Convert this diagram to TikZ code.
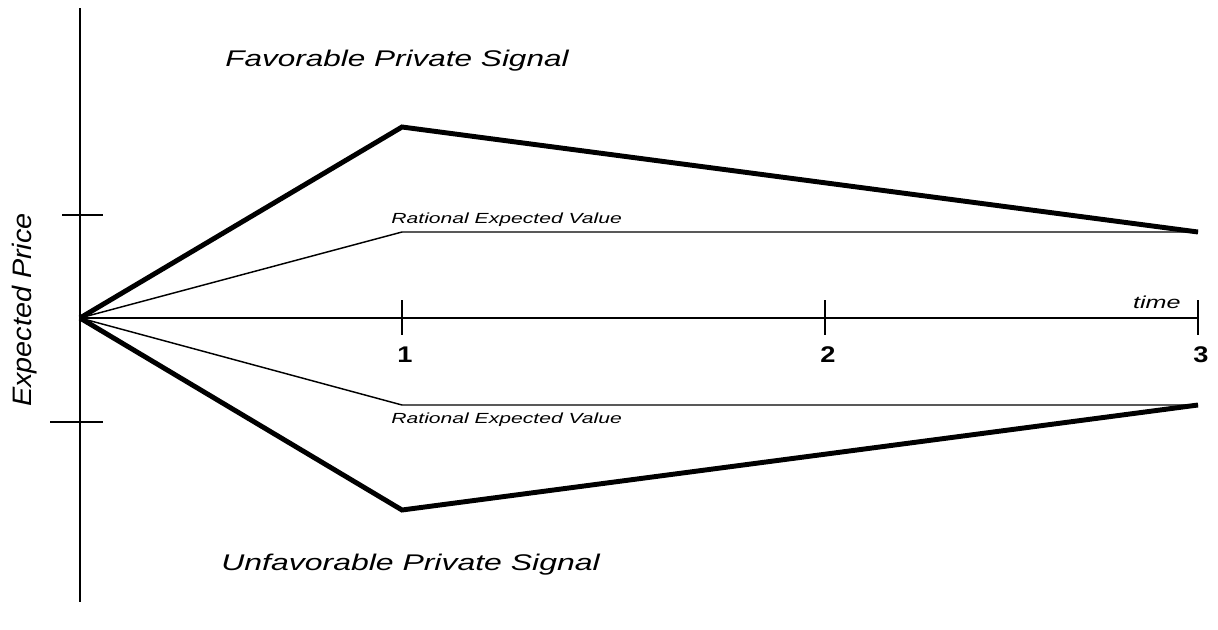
\documentclass[tikz,border=0pt]{standalone}
\usepackage{fontspec}
\setmainfont{Liberation Sans}
\usetikzlibrary{positioning}
\tikzset{
  signal/.style={line width=3.7pt, line join=miter},
  rational/.style={line width=1.1pt},
  axis/.style={line width=1.3pt},
  lbl/.style={font=\itshape, inner sep=0pt}
}
\begin{document}
\begin{tikzpicture}[x=0.75pt, y=-0.75pt]
  \useasboundingbox (0,0) rectangle (1218,629);

  % Axes
  \coordinate (O) at (80,318);
  \coordinate (Ytop) at (80,8);
  \coordinate (Ybot) at (80,602);
  \coordinate (Xend) at (1198,318);
  \draw[line width=2pt] (Ytop) -- (Ybot);
  \draw[axis] (O) -- (Xend);
  \draw[line width=1.5pt] (62,215) coordinate (hiL) -- (103,215) coordinate (hiR);
  \draw[line width=1.5pt] (50,422) coordinate (loL) -- (103,422) coordinate (loR);

  % Time ticks
  \foreach \t/\xx in {1/402, 2/825, 3/1198} {
    \draw[axis] (\xx,300) coordinate (tt\t) -- (\xx,335) coordinate (tb\t);
    \node[font=\bfseries\fontsize{17}{17}\selectfont, inner sep=0pt, xscale=1.2] (n\t) at (\xx+3,355) {\t};
  }
  \node[lbl, font=\itshape\fontsize{13}{13}\selectfont, anchor=south east, xscale=1.45] (time) at (1181,309) {time};

  % Rational expected values
  \coordinate (RU1) at (402,232);
  \coordinate (RU3) at (1198,232);
  \coordinate (RL1) at (402,405);
  \coordinate (RL3) at (1198,405);
  \draw[rational] (O) -- (RU1) -- (RU3);
  \draw[rational] (O) -- (RL1) -- (RL3);

  % Private signals
  \coordinate (PU1) at (402,127);
  \coordinate (PL1) at (402,510);
  \draw[signal] (O) -- (PU1) -- (RU3);
  \draw[signal] (O) -- (PL1) -- (RL3);

  % Labels
  \node[lbl, font=\itshape\fontsize{17}{17}\selectfont, anchor=west, xscale=1.39] (fav) at (225,61) {Favorable Private Signal};
  \node[lbl, font=\itshape\fontsize{17}{17}\selectfont, anchor=west, xscale=1.41] (unfav) at (221,565) {Unfavorable Private Signal};
  \node[lbl, font=\itshape\fontsize{11}{11}\selectfont, anchor=west, xscale=1.44] (ratU) at (391,220) {Rational Expected Value};
  \node[lbl, font=\itshape\fontsize{11}{11}\selectfont, anchor=west, xscale=1.44] (ratL) at (391,420) {Rational Expected Value};
  \node[lbl, font=\itshape\fontsize{20}{20}\selectfont, rotate=90, xscale=1.08] (ylab) at (25,310) {Expected Price};
\end{tikzpicture}
\end{document}
